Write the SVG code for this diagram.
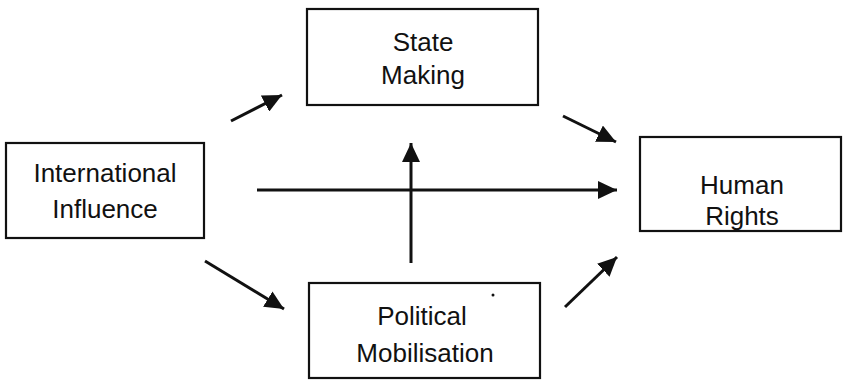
<svg xmlns="http://www.w3.org/2000/svg" width="844" height="381" viewBox="0 0 844 381">
<style>
.box{fill:#fff;stroke:#111;stroke-width:2.2}
.lbl{font-family:"Liberation Sans",Arial,sans-serif;font-size:26px;fill:#111;text-anchor:middle}
.edge{stroke:#111;stroke-width:3;fill:none;marker-end:url(#ah)}
</style>
<defs>
<marker id="ah" markerUnits="userSpaceOnUse" markerWidth="22" markerHeight="18" refX="19" refY="9" orient="auto">
<path d="M0,0 L19,9 L0,18 Z" fill="#111"/>
</marker>
</defs>
<rect width="844" height="381" fill="#fff"/>
<g id="international">
<rect class="box" x="6" y="143" width="198" height="95"/>
<text class="lbl" x="105" y="182">International</text>
<text class="lbl" x="105" y="218">Influence</text>
</g>
<g id="state">
<rect class="box" x="307" y="9" width="231" height="96"/>
<text class="lbl" x="423" y="51">State</text>
<text class="lbl" x="423" y="84">Making</text>
</g>
<g id="human">
<rect class="box" x="640" y="137" width="201" height="94"/>
<text class="lbl" x="742" y="194">Human</text>
<text class="lbl" x="742" y="225">Rights</text>
</g>
<g id="political">
<rect class="box" x="309" y="283" width="231" height="95"/>
<text class="lbl" x="422" y="325">Political</text>
<text class="lbl" x="425" y="362">Mobilisation</text>
<circle cx="493" cy="295" r="1.5" fill="#111"/>
</g>
<g id="connectors">
<line class="edge" x1="231" y1="121" x2="282" y2="95"/>
<line class="edge" x1="563" y1="116" x2="616" y2="142"/>
<line class="edge" x1="205" y1="261" x2="284" y2="309"/>
<line class="edge" x1="565" y1="307" x2="617" y2="257"/>
<line class="edge" x1="411" y1="263" x2="411" y2="143"/>
<line class="edge" x1="257" y1="190" x2="617" y2="190"/>
</g>
</svg>
